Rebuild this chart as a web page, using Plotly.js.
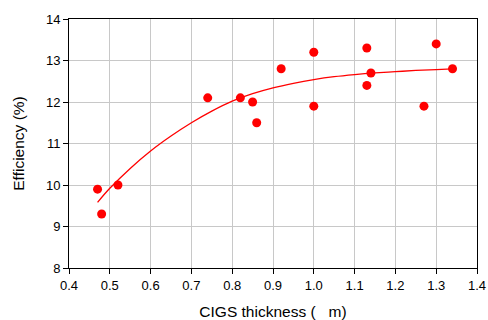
<!DOCTYPE html>
<html><head><meta charset="utf-8">
<script src="https://cdn.plot.ly/plotly-3.0.1.min.js"></script>
<style>body{margin:0;background:#fff}#c{width:488px;height:320px}</style>
</head><body><div id="c"></div>
<script>
const thickness = [0.47, 0.48, 0.52, 0.74, 0.82, 0.85, 0.86, 0.92, 1.00, 1.00, 1.13, 1.13, 1.14, 1.27, 1.30, 1.34];
const efficiency = [9.9, 9.3, 10.0, 12.1, 12.1, 12.0, 11.5, 12.8, 13.2, 11.9, 13.3, 12.4, 12.7, 11.9, 13.4, 12.8];
const fitX = [0.47, 0.5, 0.55, 0.6, 0.65, 0.7, 0.75, 0.8, 0.85, 0.9, 0.95, 1.0, 1.05, 1.1, 1.15, 1.2, 1.25, 1.3, 1.34];
const fitY = [9.58, 9.92, 10.40, 10.82, 11.18, 11.50, 11.78, 12.02, 12.20, 12.34, 12.45, 12.54, 12.61, 12.66, 12.70, 12.73, 12.76, 12.78, 12.80];
const xTitle = 'CIGS thickness (\u00a0\u00a0\u00a0m)';
const yTitle = 'Efficiency (%)';

const fam = 'Liberation Sans, Arial, sans-serif';
Plotly.newPlot('c', [
  {x: fitX, y: fitY, mode: 'lines', line: {color: '#ff0000', width: 1.3, shape: 'spline', smoothing: 1}, hoverinfo: 'skip'},
  {x: thickness, y: efficiency, mode: 'markers', marker: {color: '#ff0000', size: 9}}
], {
  width: 488, height: 320,
  margin: {l: 69, r: 11, t: 19, b: 52},
  showlegend: false,
  paper_bgcolor: '#fff', plot_bgcolor: '#fff',
  font: {family: fam, size: 13, color: '#000'},
  xaxis: {
    range: [0.4, 1.4], dtick: 0.1, tick0: 0.4, tickformat: '.1f',
    showgrid: true, gridcolor: '#c8c8c8', gridwidth: 1,
    showline: true, linecolor: '#000', linewidth: 1, mirror: true,
    ticks: 'outside', ticklen: 5, tickcolor: '#000', zeroline: false,
    title: {text: xTitle, font: {family: fam, size: 15.5}, standoff: 15},
    tickfont: {size: 13}
  },
  yaxis: {
    range: [8, 14], dtick: 1,
    showgrid: true, gridcolor: '#c8c8c8', gridwidth: 1,
    showline: true, linecolor: '#000', linewidth: 1, mirror: true,
    ticks: 'outside', ticklen: 5, tickcolor: '#000', zeroline: false,
    title: {text: yTitle, font: {family: fam, size: 15.5}, standoff: 17},
    tickfont: {size: 13}
  }
}, {displayModeBar: false, staticPlot: true});
</script></body></html>
